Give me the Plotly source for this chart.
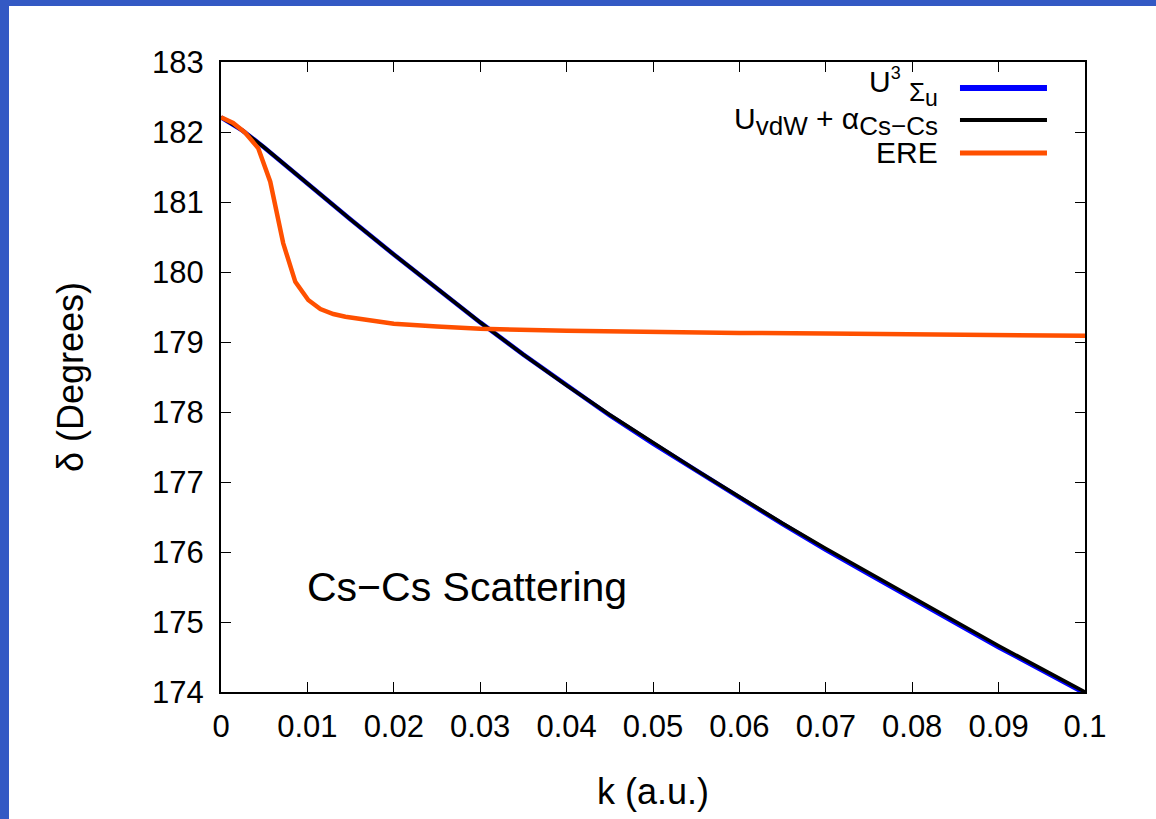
import plotly.graph_objects as go

# ---- data ----
k_pot = [0, 0.0025, 0.005, 0.0075, 0.01, 0.015, 0.02, 0.025, 0.03, 0.035, 0.04,
         0.045, 0.05, 0.055, 0.06, 0.065, 0.07, 0.075, 0.08, 0.085, 0.09, 0.095, 0.1]
delta_sigma = [182.21, 182.02, 181.78, 181.52, 181.26, 180.75, 180.25, 179.76, 179.28,
               178.82, 178.38, 177.95, 177.55, 177.16, 176.78, 176.40, 176.03, 175.68,
               175.33, 174.98, 174.64, 174.31, 173.98]
delta_vdw = [182.21, 182.02, 181.78, 181.52, 181.26, 180.75, 180.25, 179.76, 179.28,
             178.82, 178.38, 177.96, 177.56, 177.17, 176.79, 176.41, 176.05, 175.70,
             175.35, 175.00, 174.66, 174.33, 174.00]
k_ere = [0, 0.0014, 0.0028, 0.0043, 0.0057, 0.0072, 0.0086, 0.0101, 0.0115, 0.013,
         0.0144, 0.0159, 0.0173, 0.02, 0.025, 0.03, 0.04, 0.05, 0.06, 0.07, 0.08, 0.09, 0.1]
delta_ere = [182.21, 182.13, 181.99, 181.77, 181.29, 180.41, 179.86, 179.60, 179.47,
             179.40, 179.36, 179.33, 179.30, 179.26, 179.22, 179.19, 179.16, 179.14,
             179.13, 179.12, 179.11, 179.10, 179.09]

x_tickvals = [0, 0.01, 0.02, 0.03, 0.04, 0.05, 0.06, 0.07, 0.08, 0.09, 0.1]
x_ticktext = ["0", "0.01", "0.02", "0.03", "0.04", "0.05", "0.06", "0.07", "0.08", "0.09", "0.1"]
y_tickvals = [174, 175, 176, 177, 178, 179, 180, 181, 182, 183]

# legend texts (first label split in two pieces: "U³" and the lowered "Σu")
legend_main = ["U<sup><span style='font-size:18px'>3</span></sup>",
               "U<sub><span style='font-size:26px'>vdW</span></sub> + α<sub><span style='font-size:26px'>Cs−Cs</span></sub>",
               "ERE"]
legend_sub1 = "Σ<sub><span style='font-size:23px'>u</span></sub>"
colors = ["#0000ff", "#000000", "#ff5000"]

FONT = "Liberation Sans, Arial, Helvetica, sans-serif"

fig = go.Figure()
fig.add_trace(go.Scatter(x=k_pot, y=delta_sigma, mode="lines",
                         line=dict(color=colors[0], width=4.5), showlegend=False))
fig.add_trace(go.Scatter(x=k_pot, y=delta_vdw, mode="lines",
                         line=dict(color=colors[1], width=3.5), showlegend=False))
fig.add_trace(go.Scatter(x=k_ere, y=delta_ere, mode="lines",
                         line=dict(color=colors[2], width=4.5), showlegend=False))

# custom gnuplot-style legend (text left, sample right)
legend_y = [0.9587, 0.9079, 0.8556]
text_y = [0.9714, 0.905, 0.8556]
text_x = [0.7894, 0.8322, 0.8322]
legend_w = [6, 4, 5]
shapes = []
annotations = []
for lab, col, yy, ty, tx, w in zip(legend_main, colors, legend_y, text_y, text_x, legend_w):
    shapes.append(dict(type="line", xref="paper", yref="paper",
                       x0=0.8553, x1=0.956, y0=yy, y1=yy,
                       line=dict(color=col, width=w)))
    annotations.append(dict(text=lab, xref="paper", yref="paper", x=tx, y=ty,
                            xanchor="right", yanchor="middle", showarrow=False,
                            font=dict(size=30, color="black", family=FONT)))
annotations.append(dict(text=legend_sub1, xref="paper", yref="paper", x=0.8322, y=0.949,
                        xanchor="right", yanchor="middle", showarrow=False,
                        font=dict(size=26, color="black", family=FONT)))

annotations.append(dict(text="Cs−Cs Scattering", xref="paper", yref="paper",
                        x=0.2847, y=0.166, xanchor="center", yanchor="middle",
                        showarrow=False, font=dict(size=41, color="black", family=FONT)))

# blue frame at left and top of the page
shapes.append(dict(type="rect", xref="paper", yref="paper",
                   x0=-221 / 864, x1=(9 - 221) / 864, y0=-127 / 630, y1=692 / 630,
                   fillcolor="#3359c4", line=dict(width=0), layer="above"))
shapes.append(dict(type="rect", xref="paper", yref="paper",
                   x0=-221 / 864, x1=935 / 864, y0=686 / 630, y1=692 / 630,
                   fillcolor="#3359c4", line=dict(width=0), layer="above"))

axis_common = dict(showline=True, linecolor="black", linewidth=2, mirror="ticks",
                   ticks="inside", ticklen=10, tickwidth=1.3, tickcolor="black",
                   showgrid=False, zeroline=False,
                   tickfont=dict(size=31, color="black", family=FONT))

fig.update_layout(
    width=1156, height=819,
    margin=dict(l=221, r=71, t=62, b=127),
    paper_bgcolor="white", plot_bgcolor="white",
    font=dict(family=FONT, color="black"),
    xaxis=dict(range=[0, 0.1], tickvals=x_tickvals, ticktext=x_ticktext,
               ticklabelstandoff=6,
               title=dict(text="k (a.u.)", font=dict(size=36, color="black", family=FONT),
                          standoff=36),
               **axis_common),
    yaxis=dict(range=[174, 183], tickvals=y_tickvals,
               ticklabelstandoff=9,
               title=dict(text="δ (Degrees)", font=dict(size=36, color="black", family=FONT),
                          standoff=57),
               **axis_common),
    shapes=shapes,
    annotations=annotations,
)

fig.write_html("out.html")
